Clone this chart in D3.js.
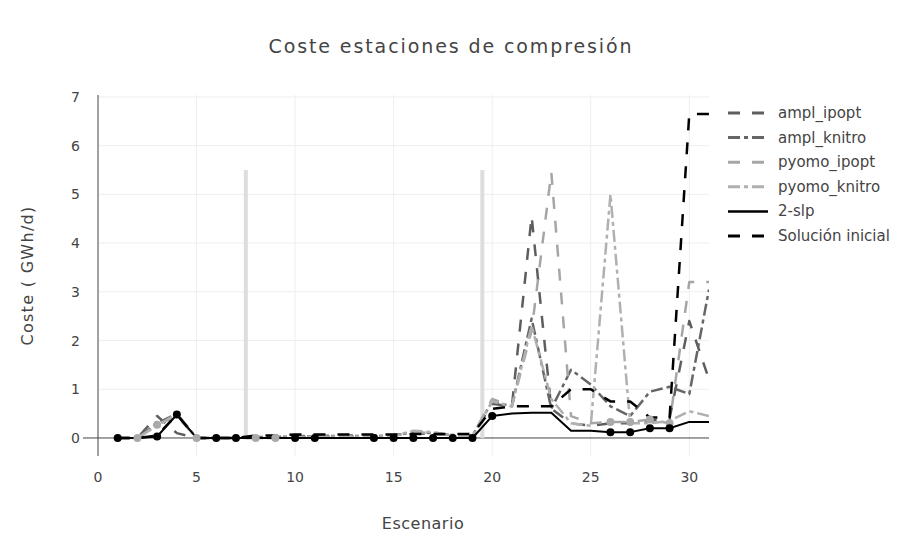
<!DOCTYPE html>
<html>
<head>
<meta charset="utf-8">
<script src="https://cdn.jsdelivr.net/npm/d3@7"></script>
<style>
  body { margin: 0; background: #fff; }
  text { font-family: "DejaVu Sans", Verdana, sans-serif; fill: #444; }
</style>
</head>
<body>
<script>
// scenarios 1..31
var scenarios = d3.range(1, 32);

var amplIpopt   = [0, 0, 0.45, 0.1, 0, 0, 0, 0.02, 0.02, 0.04, 0.04, 0.05, 0.05, 0.05, 0.06, 0.1, 0.08, 0.06, 0.05, 0.7, 0.65, 4.55, 0.6, 0.3, 0.25, 0.3, 0.3, 0.35, 0.4, 2.4, 1.2];
var amplKnitro  = [0, 0, 0.3, 0.5, 0, 0, 0, 0.02, 0.02, 0.03, 0.03, 0.04, 0.04, 0.04, 0.05, 0.12, 0.1, 0.06, 0.05, 0.75, 0.65, 2.45, 0.6, 1.4, 1.1, 0.65, 0.45, 0.95, 1.05, 0.9, 3.05];
var pyomoIpopt  = [0, 0, 0.27, 0.45, 0, 0, 0, 0, 0, 0.02, 0.02, 0.03, 0.03, 0.03, 0.04, 0.12, 0.1, 0.05, 0.04, 0.8, 0.65, 2.2, 5.45, 0.45, 0.3, 0.33, 0.33, 0.38, 0.3, 3.2, 3.2];
var pyomoKnitro = [0, 0, 0.25, 0.5, 0, 0, 0, 0, 0, 0.02, 0.02, 0.03, 0.03, 0.03, 0.04, 0.15, 0.12, 0.05, 0.04, 0.75, 0.65, 2.3, 0.8, 0.3, 0.25, 5.0, 0.3, 0.3, 0.35, 0.55, 0.45];
var slp2        = [0, 0, 0.03, 0.48, 0, 0, 0, 0, 0, 0, 0, 0, 0, 0, 0, 0, 0, 0, 0, 0.45, 0.5, 0.52, 0.52, 0.15, 0.15, 0.12, 0.12, 0.2, 0.2, 0.33, 0.33];
var solInicial  = [0, 0, 0.05, 0.48, 0, 0, 0, 0.05, 0.05, 0.07, 0.07, 0.07, 0.07, 0.07, 0.07, 0.08, 0.08, 0.08, 0.08, 0.6, 0.65, 0.65, 0.65, 1.0, 1.0, 0.75, 0.75, 0.42, 0.42, 6.65, 6.65];

// scenarios with a point marker
var slpMarks   = [1, 3, 4, 6, 7, 10, 11, 14, 15, 16, 17, 18, 19, 20, 26, 27, 28, 29];
var pyomoMarks = [2, 3, 5, 8, 9, 26, 27, 28, 29];

// gray separators between scenario groups
var separators = [7.5, 19.5];
var separatorTop = 5.5;

var xTicks = [0, 5, 10, 15, 20, 25, 30];
var yTicks = [0, 1, 2, 3, 4, 5, 6, 7];

var series = [
    { name: "ampl_ipopt",       values: amplIpopt,   color: "#5e5e5e", dash: "12,12", width: 2.5 },
    { name: "ampl_knitro",      values: amplKnitro,  color: "#666", dash: "12,4,4,4", width: 2.5 },
    { name: "pyomo_ipopt",      values: pyomoIpopt,  color: "#a6a6a6", dash: "12,12", width: 2.5 },
    { name: "pyomo_knitro",     values: pyomoKnitro, color: "#b0b0b0", dash: "12,4,4,4", width: 2.5 },
    { name: "2-slp",            values: slp2,        color: "#000", dash: null, width: 2 },
    { name: "Solución inicial", values: solInicial,  color: "#000", dash: "12,12", width: 2.5 }
];

var width = 901, height = 538;
var margin = { left: 98, right: 192, top: 95, bottom: 82 };

var svg = d3.select("body").append("svg")
    .attr("width", width)
    .attr("height", height);

var x = d3.scaleLinear().domain([0, 31]).range([margin.left, width - margin.right]);
var y = d3.scaleLinear().domain([-0.37, 7.04]).range([height - margin.bottom, margin.top]);

var defs = svg.append("defs");
defs.append("clipPath").attr("id", "plotclip")
    .append("rect")
    .attr("x", margin.left).attr("y", margin.top)
    .attr("width", width - margin.left - margin.right)
    .attr("height", height - margin.top - margin.bottom);

// grid
svg.append("g").selectAll("line").data(xTicks.filter(d => d > 0)).enter()
    .append("line")
    .attr("x1", d => x(d)).attr("x2", d => x(d))
    .attr("y1", margin.top).attr("y2", height - margin.bottom)
    .attr("stroke", "#eee").attr("stroke-width", 1);
svg.append("g").selectAll("line").data(yTicks.filter(d => d > 0)).enter()
    .append("line")
    .attr("x1", margin.left).attr("x2", width - margin.right)
    .attr("y1", d => y(d)).attr("y2", d => y(d))
    .attr("stroke", "#eee").attr("stroke-width", 1);

// zero line
svg.append("line")
    .attr("x1", margin.left).attr("x2", width - margin.right)
    .attr("y1", y(0)).attr("y2", y(0))
    .attr("stroke", "#444").attr("stroke-width", 1);

// separators
svg.append("g").selectAll("line").data(separators).enter()
    .append("line")
    .attr("x1", d => x(d)).attr("x2", d => x(d))
    .attr("y1", y(0)).attr("y2", y(separatorTop))
    .attr("stroke", "#ddd").attr("stroke-width", 4);

// lines
var line = d3.line()
    .x((d, i) => x(scenarios[i]))
    .y(d => y(d));

var plot = svg.append("g").attr("clip-path", "url(#plotclip)");
series.forEach(function (s) {
    plot.append("path")
        .attr("d", line(s.values))
        .attr("fill", "none")
        .attr("stroke", s.color)
        .attr("stroke-width", s.width)
        .attr("stroke-dasharray", s.dash)
        .attr("stroke-linejoin", "round");
});

// markers
plot.append("g").selectAll("circle").data(pyomoMarks).enter()
    .append("circle")
    .attr("cx", d => x(d))
    .attr("cy", d => y(pyomoIpopt[d - 1]))
    .attr("r", 4)
    .attr("fill", "#aaa");
plot.append("g").selectAll("circle").data(slpMarks).enter()
    .append("circle")
    .attr("cx", d => x(d))
    .attr("cy", d => y(slp2[d - 1]))
    .attr("r", 4)
    .attr("fill", "#000");

// y axis line
svg.append("line")
    .attr("x1", x(0)).attr("x2", x(0))
    .attr("y1", margin.top).attr("y2", height - margin.bottom)
    .attr("stroke", "#444").attr("stroke-width", 1);

// tick labels
svg.append("g").selectAll("text").data(xTicks).enter()
    .append("text")
    .attr("x", d => x(d))
    .attr("y", height - margin.bottom + 26)
    .attr("text-anchor", "middle")
    .style("font-size", "14px")
    .text(d => d);
svg.append("g").selectAll("text").data(yTicks).enter()
    .append("text")
    .attr("x", margin.left - 18)
    .attr("y", d => y(d) + 5)
    .attr("text-anchor", "end")
    .style("font-size", "14px")
    .text(d => d);
// small tick on y=0
svg.append("line")
    .attr("x1", margin.left - 15).attr("x2", margin.left)
    .attr("y1", y(0)).attr("y2", y(0))
    .attr("stroke", "#444");

// titles
svg.append("text")
    .attr("x", 451).attr("y", 53)
    .attr("text-anchor", "middle")
    .style("font-size", "19px")
    .style("letter-spacing", "1.9px")
    .text("Coste estaciones de compresión");
svg.append("text")
    .attr("x", 423).attr("y", 529)
    .attr("text-anchor", "middle")
    .style("font-size", "16px")
    .style("letter-spacing", "0.5px")
    .text("Escenario");
svg.append("text")
    .attr("transform", "translate(33," + ((margin.top + height - margin.bottom) / 2) + ") rotate(-90)")
    .attr("text-anchor", "middle")
    .style("font-size", "16px")
    .style("letter-spacing", "1.3px")
    .text("Coste ( GWh/d)");

// legend
var legend = svg.append("g").attr("transform", "translate(728,113)");
series.forEach(function (s, i) {
    var g = legend.append("g").attr("transform", "translate(0," + (i * 24.6) + ")");
    g.append("line")
        .attr("x1", 0).attr("x2", 40)
        .attr("y1", 0).attr("y2", 0)
        .attr("stroke", s.color)
        .attr("stroke-width", s.width + 0.5)
        .attr("stroke-dasharray", s.dash);
    g.append("text")
        .attr("x", 50).attr("y", 5)
        .style("font-size", "15px")
        .text(s.name);
});
</script>
</body>
</html>
